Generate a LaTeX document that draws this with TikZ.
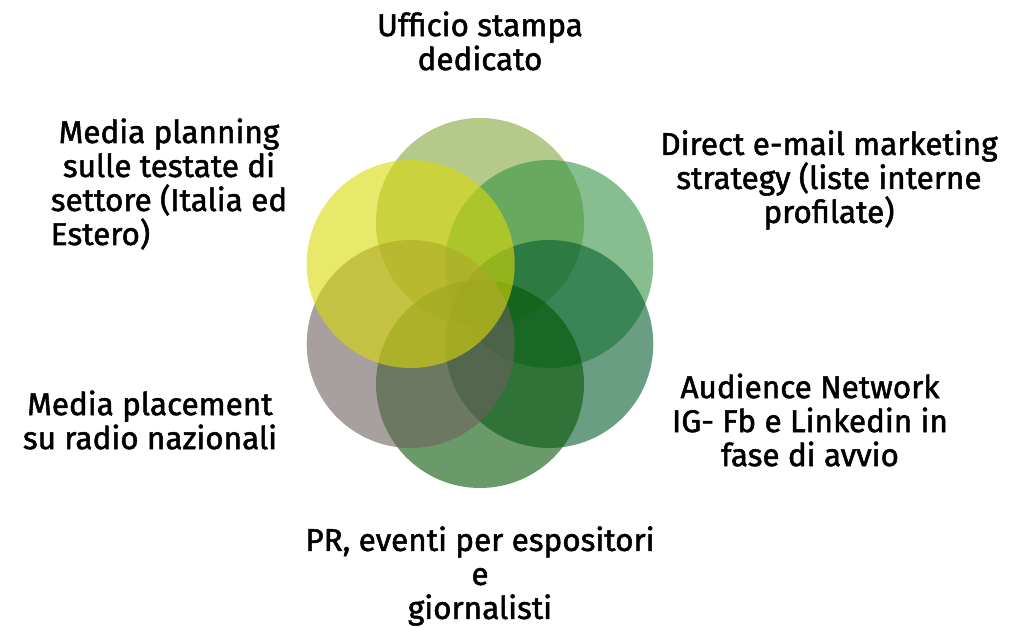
\documentclass[tikz,border=0pt]{standalone}
\usepackage{fontspec}
\setmainfont{Fira Sans}
\newfontfamily\labfont{Fira Sans}[FakeBold=1.6]
\usetikzlibrary{calc}
\definecolor{cTop}{RGB}{132,165,62}
\definecolor{cTR}{RGB}{53,147,68}
\definecolor{cBR}{RGB}{7,93,47}
\definecolor{cBot}{RGB}{7,87,7}
\definecolor{cBL}{RGB}{110,97,93}
\definecolor{cTL}{RGB}{217,217,7}
\tikzset{
  petal/.style={circle, minimum size=208pt, inner sep=0pt, fill opacity=0.6},
  label/.style={font=\labfont\fontsize{31.5}{34}\selectfont, align=center, inner sep=0pt, text=black}
}
\begin{document}
\begin{tikzpicture}[x=1pt,y=1pt]
\useasboundingbox (0,0) rectangle (1026,627);
\coordinate (ctr) at (480,323);
\node[petal, fill=cTop] (p1) at ($(ctr)+(90:82)$) {};
\node[petal, fill=cTR]  (p2) at ($(ctr)+(30:80)$) {};
\node[petal, fill=cBR]  (p3) at ($(ctr)+(-30:80)$) {};
\node[petal, fill=cBot] (p4) at ($(ctr)+(-90:80)$) {};
\node[petal, fill=cBL]  (p5) at ($(ctr)+(-150:80)$) {};
\node[petal, fill=cTL]  (p6) at ($(ctr)+(150:80)$) {};
\node[label] (t1) at (480,586) {Ufficio stampa\\dedicato};
\node[label] (t2) at (829,447) {Direct e-mail marketing\\strategy (liste interne\\profilate)};
\node[label] (t3) at (810,207) {Audience Network\\IG- Fb e Linkedin in\\fase di avvio};
\node[label] (t4) at (480,51) {PR, eventi per espositori\\e\\giornalisti};
\node[label] (t5) at (150,207) {Media placement\\su radio nazionali};
\node[label] (t6) at (169,443) {Media planning\\sulle testate di\\settore (Italia ed\\{\setbox0\hbox{settore (Italia ed}\hbox to \wd0{Estero)\hfil}}};
\end{tikzpicture}
\end{document}
